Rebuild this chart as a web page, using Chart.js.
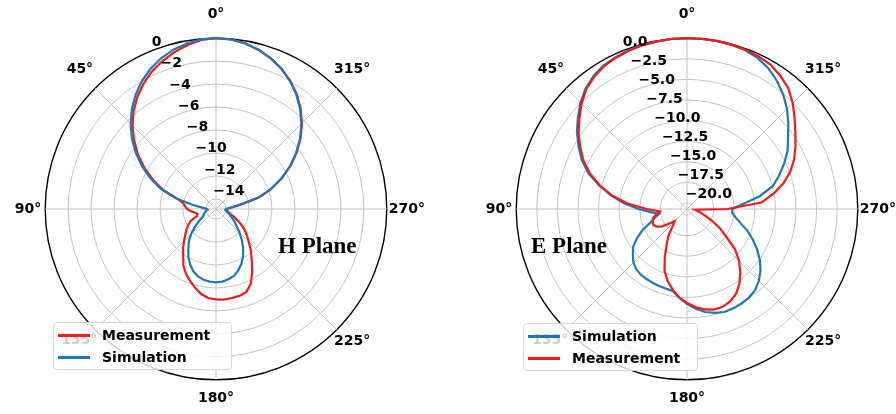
<!DOCTYPE html>
<html>
<head>
<meta charset="utf-8">
<script src="https://cdn.jsdelivr.net/npm/chart.js@4.4.1/dist/chart.umd.min.js"></script>
<style>
html,body{margin:0;padding:0;background:#fff;overflow:hidden;}
body{width:896px;height:414px;position:relative;font-family:"DejaVu Sans",sans-serif;}
canvas{position:absolute;top:0;}
.plane{position:absolute;font-family:"Liberation Serif","Times New Roman",serif;font-weight:bold;font-size:23px;line-height:23px;color:#000;white-space:nowrap;}
.legend{position:absolute;box-sizing:border-box;border:1px solid #d6d6d6;border-radius:4px;background:rgba(255,255,255,0.8);}
.legend .sw{position:absolute;height:2.5px;width:32px;}
.legend .tx{position:absolute;font-family:"DejaVu Sans",sans-serif;font-weight:bold;font-size:14px;line-height:16px;color:#000;white-space:nowrap;}
</style>
</head>
<body>
<canvas id="hChart" width="448" height="414" style="left:0px;width:448px;height:414px;"></canvas>
<canvas id="eChart" width="452" height="414" style="left:448px;width:452px;height:414px;"></canvas>
<div class="plane" style="left:278px;top:234px;">H Plane</div>
<div class="plane" style="left:531px;top:234px;">E Plane</div>
<div class="legend" id="hLegend" style="left:53px;top:322px;width:179px;height:48px;"></div>
<div class="legend" id="eLegend" style="left:523px;top:323px;width:175px;height:48px;"></div>
<script>
// Angles (degrees, counter-clockwise from the top, as in the reference)
const angleDeg = [0,5,10,15,20,25,30,35,40,45,50,55,60,65,70,75,80,85,90,95,100,105,110,115,120,125,130,135,140,145,150,155,160,165,170,175,180,185,190,195,200,205,210,215,220,225,230,235,240,245,250,255,260,265,270,275,280,285,290,295,300,305,310,315,320,325,330,335,340,345,350,355];

// H plane (dB)
const hMeasurement = [0,-0.09,-0.40,-0.75,-1.18,-1.66,-2.27,-2.93,-3.72,-4.59,-5.56,-6.56,-7.66,-8.79,-9.93,-11.38,-11.99,-12.16,-12.34,-12.69,-13.04,-13.21,-13.12,-12.43,-12.08,-11.73,-11.38,-10.94,-10.41,-9.89,-9.19,-8.66,-8.23,-7.79,-7.35,-7.09,-7.00,-6.96,-7.00,-7.04,-7.17,-7.70,-8.57,-9.45,-10.15,-10.85,-11.38,-11.90,-12.51,-13.04,-13.48,-13.74,-13.91,-14.00,-13.91,-13.56,-12.69,-11.03,-9.76,-8.58,-7.39,-6.30,-5.25,-4.29,-3.41,-2.63,-1.97,-1.40,-0.92,-0.53,-0.22,-0.04];
const hSimulation = [0,-0.05,-0.23,-0.51,-0.90,-1.39,-1.99,-2.69,-3.48,-4.36,-5.31,-6.35,-7.44,-8.59,-9.79,-11.20,-12.78,-13.74,-14.09,-14.15,-14.00,-13.91,-13.78,-13.69,-13.56,-13.12,-12.51,-11.81,-11.20,-10.68,-10.06,-9.54,-9.10,-8.79,-8.62,-8.53,-8.49,-8.53,-8.66,-8.84,-9.19,-9.63,-10.15,-10.76,-11.38,-11.99,-12.51,-12.86,-13.21,-13.48,-13.69,-13.87,-14.00,-14.06,-14.00,-13.65,-12.78,-11.03,-9.79,-8.59,-7.44,-6.35,-5.31,-4.36,-3.48,-2.69,-1.99,-1.39,-0.90,-0.51,-0.23,-0.05];

// E plane (dB)
const eSimulation = [0,0,-0.05,-0.07,-0.19,-0.37,-0.56,-0.99,-1.60,-2.46,-3.44,-4.42,-5.53,-6.63,-7.98,-9.70,-11.41,-13.13,-14.85,-16.32,-17.30,-16.69,-16.08,-14.85,-13.75,-12.76,-12.15,-11.54,-11.17,-10.99,-10.92,-10.86,-10.80,-10.74,-10.62,-9.94,-9.21,-8.59,-8.04,-7.67,-7.43,-7.43,-7.49,-7.61,-7.86,-8.41,-9.08,-9.94,-10.92,-11.91,-12.89,-13.99,-14.73,-15.22,-15.26,-13.99,-11.78,-9.94,-8.84,-7.73,-6.63,-5.77,-4.67,-3.56,-2.58,-1.72,-0.99,-0.49,-0.19,-0.07,0,0];
const eMeasurement = [0,0,-0.07,-0.13,-0.25,-0.43,-0.68,-1.11,-1.72,-2.64,-3.68,-4.67,-5.77,-6.87,-8.22,-9.82,-11.54,-13.62,-15.83,-17.43,-16.94,-16.45,-16.32,-16.20,-16.45,-17.06,-18.04,-18.65,-18.04,-16.81,-15.83,-14.36,-12.76,-11.66,-10.80,-9.94,-9.33,-8.78,-8.35,-8.10,-8.10,-8.35,-8.84,-9.64,-10.68,-11.78,-13.13,-14.97,-16.20,-17.43,-18.41,-19.02,-19.51,-19.76,-15.83,-11.66,-10.07,-8.59,-7.37,-6.38,-5.53,-4.67,-3.68,-2.58,-1.60,-0.99,-0.49,-0.25,-0.13,-0.07,0,0];

// radial ticks and ranges
const hTicks = [-14,-12,-10,-8,-6,-4,-2,0];
const eTicks = [-20,-17.5,-15,-12.5,-10,-7.5,-5,-2.5,0];
const hRange = [-14.875, 0];
const eRange = [-20.74, 0];

const RED = '#f21a1a';
const BLUE = '#1f77b4';
const GRID = '#c3c3c3';

// Chart.js radar runs clockwise; reference runs counter-clockwise
const cw = arr => arr.map((_, i) => arr[(arr.length - i) % arr.length]);
const cwAngles = cw(angleDeg);
const isMajor = a => a % 45 === 0;

function labelPadding(a) {
  if (a === 0) return 15;
  if (a === 180) return 10;
  if (a === 90) return 4;
  if (a === 270) return 2;
  if (a === 45) return 3;
  if (a === 315) return -4;
  if (a === 135) return -3;
  if (a === 225) return -4;
  return 0;
}
function labelLineHeight(a) {
  if (a === 45) return 2.36;
  if (a === 315) return 3.1;
  if (a === 135) return 1.86;
  if (a === 225) return 2.0;
  return 1.2;
}

function fmt(v, dec) {
  const s = Math.abs(v).toFixed(dec);
  return (v < 0 ? '\u2212' : '') + s;
}

function tickLabelPlugin(values, dec) {
  return {
    id: 'rTickLabels',
    afterDatasetsDraw(chart) {
      const s = chart.scales.r;
      const ctx = chart.ctx;
      const a = 22.5 * Math.PI / 180;
      ctx.save();
      ctx.font = 'bold 14px "DejaVu Sans"';
      ctx.fillStyle = '#000';
      ctx.textAlign = 'left';
      ctx.textBaseline = 'alphabetic';
      values.forEach(v => {
        const d = s.getDistanceFromCenterForValue(v);
        ctx.fillText(fmt(v, dec), s.xCenter - d * Math.sin(a) + 1, s.yCenter - d * Math.cos(a) - 5);
      });
      ctx.restore();
    }
  };
}

function makeChart(id, datasets, range, ticks, dec, padding) {
  return new Chart(document.getElementById(id), {
    type: 'radar',
    data: {
      labels: cwAngles.map(a => isMajor(a) ? a + '\u00b0' : ''),
      datasets: datasets.map(d => ({
        label: d.label,
        data: cw(d.values),
        borderColor: d.color,
        backgroundColor: 'rgba(0,0,0,0)',
        borderWidth: 2.2,
        pointRadius: 0,
        pointHoverRadius: 0,
        fill: false,
        tension: 0,
        order: d.order
      }))
    },
    options: {
      responsive: false,
      animation: false,
      devicePixelRatio: 1,
      layout: { padding: padding },
      plugins: { legend: { display: false }, tooltip: { enabled: false } },
      scales: {
        r: {
          min: range[0],
          max: range[1],
          startAngle: 0,
          afterBuildTicks: s => { s.ticks = ticks.map(v => ({ value: v })); },
          ticks: { display: false },
          grid: {
            circular: true,
            color: c => (c.tick && c.tick.value === 0) ? '#000' : GRID,
            lineWidth: c => (c.tick && c.tick.value === 0) ? 1.4 : 1
          },
          angleLines: {
            display: true,
            color: c => isMajor(cwAngles[c.index]) ? GRID : 'rgba(0,0,0,0)',
            lineWidth: c => isMajor(cwAngles[c.index]) ? 1 : 0
          },
          pointLabels: {
            display: true,
            color: '#000',
            padding: c => labelPadding(cwAngles[c.index]),
            font: c => ({ family: 'DejaVu Sans', size: 14, weight: 'bold', lineHeight: labelLineHeight(cwAngles[c.index]) })
          }
        }
      }
    },
    plugins: [tickLabelPlugin(ticks, dec)]
  });
}

const hChart = makeChart('hChart', [
  { label: 'Measurement', values: hMeasurement, color: RED, order: 2 },
  { label: 'Simulation', values: hSimulation, color: BLUE, order: 1 }
], hRange, hTicks, 0, { left: 11, right: 19, top: 0, bottom: 0 });

const eChart = makeChart('eChart', [
  { label: 'Simulation', values: eSimulation, color: BLUE, order: 2 },
  { label: 'Measurement', values: eMeasurement, color: RED, order: 1 }
], eRange, eTicks, 1, { left: 35, right: 0, top: 0, bottom: 0 });

function buildLegend(chart, el, swLeft, txLeft) {
  chart.data.datasets.forEach((ds, i) => {
    const cy = 12 + i * 22;
    const sw = document.createElement('div');
    sw.className = 'sw';
    sw.style.left = swLeft + 'px';
    sw.style.top = (cy - 1) + 'px';
    sw.style.background = ds.borderColor;
    el.appendChild(sw);
    const tx = document.createElement('div');
    tx.className = 'tx';
    tx.style.left = txLeft + 'px';
    tx.style.top = (cy - 8) + 'px';
    tx.textContent = ds.label;
    el.appendChild(tx);
  });
}
buildLegend(hChart, document.getElementById('hLegend'), 4, 48);
buildLegend(eChart, document.getElementById('eLegend'), 4, 48);
</script>
</body>
</html>
